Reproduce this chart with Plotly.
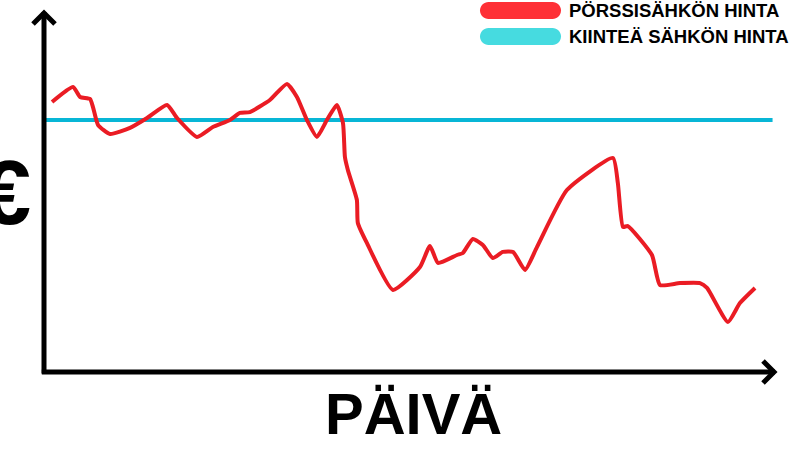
import plotly.graph_objects as go

# --- data ---
days = [0.33, 1.19, 1.48, 1.89, 2.01, 2.22, 2.71, 3.53, 4.23, 5.05, 5.46, 6.28, 6.93,
        7.63, 8.04, 8.45, 9.27, 9.97, 10.38, 10.79, 11.2, 11.61, 12.02, 12.27, 12.35,
        12.47, 12.84, 12.88, 13.25, 14.32, 15.43, 15.84, 16.17, 16.95, 17.19, 17.6,
        18.01, 18.42, 18.83, 19.25, 19.74, 20.23, 21.46, 23.35, 23.55, 23.76, 23.96,
        24.95, 25.28, 26.1, 26.92, 27.21, 28.07, 28.56, 29.18]
spot_price = [15.0, 15.83, 15.28, 15.17, 14.72, 13.72, 13.22, 13.56, 14.11, 14.83, 14.11,
              13.06, 13.61, 14.0, 14.39, 14.44, 15.11, 16.0, 15.28, 14.0, 13.06, 14.0,
              14.83, 13.83, 11.94, 11.22, 9.56, 8.28, 7.17, 4.56, 5.83, 7.0, 6.06, 6.5,
              6.61, 7.39, 7.06, 6.33, 6.67, 6.67, 5.67, 6.94, 10.11, 11.89, 10.5, 8.06,
              8.11, 6.5, 4.83, 4.94, 4.94, 4.67, 2.78, 3.83, 4.67]
fixed_days = [0, 29.9]
fixed_price = [14.0, 14.0]

legend_labels = ["PÖRSSISÄHKÖN HINTA", "KIINTEÄ SÄHKÖN HINTA"]
x_title = "PÄIVÄ"
y_title = "€"

RED = "#ea1c24"
BLUE = "#08b6d6"
RED_PILL = "#fe3036"
BLUE_PILL = "#46dbe0"

W, H = 799, 449
L, R, T, B = 44, 24, 12, 77
PW, PH = W - L - R, H - T - B


def px(x):
    return (x - L) / PW


def py(y):
    return (H - B - y) / PH


fig = go.Figure()
fig.add_trace(go.Scatter(x=fixed_days, y=fixed_price, mode="lines",
                         line=dict(color=BLUE, width=4), name=legend_labels[1],
                         showlegend=False, hoverinfo="skip"))
fig.add_trace(go.Scatter(x=days, y=spot_price, mode="lines",
                         line=dict(color=RED, width=4, shape="spline", smoothing=0.5),
                         name=legend_labels[0], showlegend=False))

shapes = []
# axes
shapes.append(dict(type="line", xref="paper", yref="paper", x0=0, y0=-0.004, x1=0, y1=1,
                   line=dict(color="black", width=5)))
shapes.append(dict(type="line", xref="paper", yref="paper", x0=-0.003, y0=0, x1=1, y1=0,
                   line=dict(color="black", width=5)))
# arrow heads
shapes.append(dict(type="path", xref="paper", yref="paper",
                   path=f"M {px(33)},{py(24)} L {px(44)},{py(13)} L {px(55)},{py(24)}",
                   line=dict(color="black", width=5)))
shapes.append(dict(type="path", xref="paper", yref="paper",
                   path=f"M {px(763)},{py(361)} L {px(774)},{py(372)} L {px(763)},{py(383)}",
                   line=dict(color="black", width=5)))


def pill(x0, x1, y0, y1, color):
    r = (y1 - y0) / 2
    k = 0.5523 * r
    ym = (y0 + y1) / 2
    p = (f"M {px(x0 + r)},{py(y0)} L {px(x1 - r)},{py(y0)} "
         f"C {px(x1 - r + k)},{py(y0)} {px(x1)},{py(ym - k)} {px(x1)},{py(ym)} "
         f"C {px(x1)},{py(ym + k)} {px(x1 - r + k)},{py(y1)} {px(x1 - r)},{py(y1)} "
         f"L {px(x0 + r)},{py(y1)} "
         f"C {px(x0 + r - k)},{py(y1)} {px(x0)},{py(ym + k)} {px(x0)},{py(ym)} "
         f"C {px(x0)},{py(ym - k)} {px(x0 + r - k)},{py(y0)} {px(x0 + r)},{py(y0)} Z")
    return dict(type="path", xref="paper", yref="paper", path=p,
                fillcolor=color, line=dict(width=0))


shapes.append(pill(480, 561, 2, 19, RED_PILL))
shapes.append(pill(480, 561, 28, 45, BLUE_PILL))

annotations = [
    dict(text=legend_labels[0], x=px(567), y=py(10.5), xref="paper", yref="paper",
         xanchor="left", yanchor="middle", showarrow=False,
         font=dict(family="Liberation Sans", size=18.5, color="black", weight="bold")),
    dict(text=legend_labels[1], x=px(567), y=py(37), xref="paper", yref="paper",
         xanchor="left", yanchor="middle", showarrow=False,
         font=dict(family="Liberation Sans", size=18.5, color="black", weight="bold")),
    dict(text=x_title, x=px(413), y=py(413), xref="paper", yref="paper",
         xanchor="center", yanchor="middle", showarrow=False,
         font=dict(family="Liberation Sans", size=58, color="black", weight="bold")),
    dict(text=y_title, x=px(33), y=py(193), xref="paper", yref="paper",
         xanchor="right", yanchor="middle", showarrow=False,
         font=dict(family="Liberation Sans", size=90, color="black", weight="bold")),
]

fig.update_layout(
    width=W, height=H,
    margin=dict(l=L, r=R, t=T, b=B, pad=0),
    paper_bgcolor="white", plot_bgcolor="white",
    xaxis=dict(range=[0, 30], showgrid=False, zeroline=False, showticklabels=False,
               ticks="", showline=False, fixedrange=True),
    yaxis=dict(range=[0, 20], showgrid=False, zeroline=False, showticklabels=False,
               ticks="", showline=False, fixedrange=True),
    shapes=shapes,
    annotations=annotations,
    showlegend=False,
)

fig.write_html("out.html",
               config={"displayModeBar": False},
               post_script="document.body.style.margin='0';document.body.style.overflow='hidden';")
